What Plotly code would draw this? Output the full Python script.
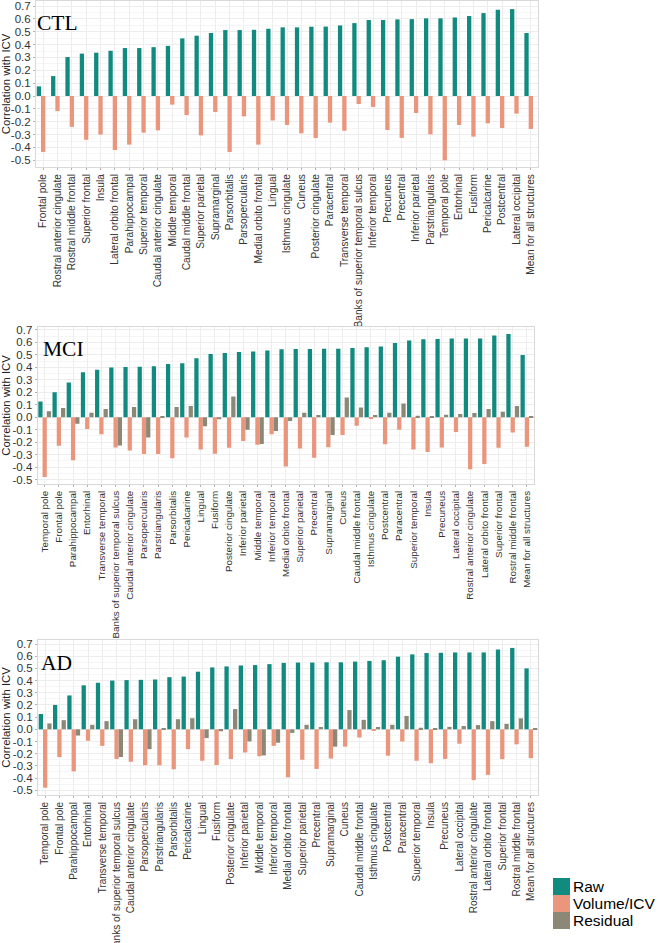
import plotly.graph_objects as go

# ---------------- data ----------------
ctl_categories = ["Frontal pole", "Rostral anterior cingulate", "Rostral middle frontal", "Superior frontal",
                  "Insula", "Lateral orbito frontal", "Parahippocampal", "Superior temporal",
                  "Caudal anterior cingulate", "Middle temporal", "Caudal middle frontal", "Superior parietal",
                  "Supramarginal", "Parsorbitalis", "Parsopercularis", "Medial orbito frontal", "Lingual",
                  "Isthmus cingulate", "Cuneus", "Posterior cingulate", "Paracentral", "Transverse temporal",
                  "Banks of superior temporal sulcus", "Inferior temporal", "Precuneus", "Precentral",
                  "Inferior parietal", "Parstriangularis", "Temporal pole", "Entorhinal", "Fusiform",
                  "Pericalcarine", "Postcentral", "Lateral occipital", "Mean for all structures"]
ctl_raw = [0.075, 0.155, 0.303, 0.330, 0.337, 0.352, 0.373, 0.373, 0.380, 0.390, 0.448, 0.469, 0.490,
           0.513, 0.513, 0.515, 0.523, 0.534, 0.534, 0.539, 0.540, 0.549, 0.567, 0.591, 0.591, 0.596,
           0.598, 0.604, 0.604, 0.611, 0.622, 0.645, 0.671, 0.676, 0.490]
ctl_vol = [-0.435, -0.117, -0.240, -0.340, -0.300, -0.420, -0.378, -0.285, -0.267, -0.067, -0.148, -0.306,
           -0.124, -0.435, -0.158, -0.378, -0.190, -0.225, -0.290, -0.326, -0.207, -0.270, -0.062, -0.085,
           -0.264, -0.326, -0.132, -0.298, -0.500, -0.225, -0.316, -0.212, -0.249, -0.137, -0.256]

mci_categories = ["Temporal pole", "Frontal pole", "Parahippocampal", "Entorhinal", "Transverse temporal",
                  "Banks of superior temporal sulcus", "Caudal anterior cingulate", "Parsopercularis",
                  "Parstriangularis", "Parsorbitalis", "Pericalcarine", "Lingual", "Fusiform",
                  "Posterior cingulate", "Inferior parietal", "Middle temporal", "Inferior temporal",
                  "Medial orbito frontal", "Superior parietal", "Precentral", "Supramarginal", "Cuneus",
                  "Caudal middle frontal", "Isthmus cingulate", "Postcentral", "Paracentral",
                  "Superior temporal", "Insula", "Precuneus", "Lateral occipital", "Rostral anterior cingulate",
                  "Lateral orbito frontal", "Superior frontal", "Rostral middle frontal", "Mean for all structures"]
mci_raw = [0.126, 0.200, 0.278, 0.361, 0.382, 0.400, 0.404, 0.406, 0.409, 0.428, 0.433, 0.473, 0.508,
           0.516, 0.524, 0.527, 0.535, 0.545, 0.548, 0.548, 0.550, 0.550, 0.556, 0.561, 0.567, 0.596,
           0.615, 0.626, 0.628, 0.631, 0.631, 0.631, 0.655, 0.668, 0.500]
mci_vol = [-0.479, -0.228, -0.345, -0.094, -0.136, -0.243, -0.266, -0.295, -0.295, -0.328, -0.163, -0.258,
           -0.293, -0.244, -0.190, -0.221, -0.136, -0.394, -0.250, -0.325, -0.240, -0.142, -0.067, -0.008,
           -0.216, -0.100, -0.258, -0.278, -0.243, -0.118, -0.417, -0.374, -0.245, -0.123, -0.237]
mci_res = [0.048, 0.075, -0.051, 0.037, 0.067, -0.227, 0.083, -0.163, 0.005, 0.083, 0.091, -0.072, -0.016,
           0.166, -0.099, -0.214, -0.110, -0.029, 0.037, 0.019, -0.142, 0.158, 0.078, 0.019, 0.037, 0.110,
           0.013, 0.010, 0.020, 0.027, 0.035, 0.067, 0.045, 0.090, 0.010]

ad_categories = ["Temporal pole", "Frontal pole", "Parahippocampal", "Entorhinal", "Transverse temporal",
                 "Banks of superior temporal sulcus", "Caudal anterior cingulate", "Parsopercularis",
                 "Parstriangularis", "Parsorbitalis", "Pericalcarine", "Lingual", "Fusiform",
                 "Posterior cingulate", "Inferior parietal", "Middle temporal", "Inferior temporal",
                 "Medial orbito frontal", "Superior parietal", "Precentral", "Supramarginal", "Cuneus",
                 "Caudal middle frontal", "Isthmus cingulate", "Postcentral", "Paracentral",
                 "Superior temporal", "Insula", "Precuneus", "Lateral occipital", "Rostral anterior cingulate",
                 "Lateral orbito frontal", "Superior frontal", "Rostral middle frontal", "Mean for all structures"]
ad_raw = [0.126, 0.200, 0.278, 0.361, 0.382, 0.400, 0.404, 0.406, 0.409, 0.428, 0.433, 0.473, 0.508,
          0.516, 0.524, 0.527, 0.535, 0.545, 0.548, 0.548, 0.550, 0.550, 0.556, 0.561, 0.567, 0.596,
          0.615, 0.626, 0.628, 0.631, 0.631, 0.631, 0.655, 0.668, 0.500]
ad_vol = [-0.479, -0.228, -0.345, -0.094, -0.136, -0.243, -0.266, -0.295, -0.295, -0.328, -0.163, -0.258,
          -0.293, -0.244, -0.190, -0.221, -0.136, -0.394, -0.250, -0.325, -0.240, -0.142, -0.067, -0.008,
          -0.216, -0.100, -0.258, -0.278, -0.243, -0.118, -0.417, -0.374, -0.245, -0.123, -0.237]
ad_res = [0.048, 0.075, -0.051, 0.037, 0.067, -0.227, 0.083, -0.163, 0.005, 0.083, 0.091, -0.072, -0.016,
          0.166, -0.099, -0.214, -0.110, -0.029, 0.037, 0.019, -0.142, 0.158, 0.078, 0.019, 0.037, 0.110,
          0.013, 0.010, 0.020, 0.027, 0.035, 0.067, 0.045, 0.090, 0.010]

series_names = ["Raw", "Volume/ICV", "Residual"]
panel_names = ["CTL", "MCI", "AD"]
y_tick_values = [-0.5, -0.4, -0.3, -0.2, -0.1, 0.0, 0.1, 0.2, 0.3, 0.4, 0.5, 0.6, 0.7]
y_tick_labels = ["-0.5", "-0.4", "-0.3", "-0.2", "-0.1", "0.0", "0.1", "0.2", "0.3", "0.4", "0.5", "0.6", "0.7"]

# ---------------- styling ----------------
W, H = 661, 943
COLORS = {"Raw": "#118A80", "Volume/ICV": "#E9967D", "Residual": "#8C8878"}
OFFSETS = {"Raw": -0.45, "Volume/ICV": -0.15, "Residual": 0.15}
SANS = "Liberation Sans, Arial, sans-serif"
SERIF = "Liberation Serif, Times New Roman, serif"


def px_x(x):
    return x / W


def px_y(y):
    return 1 - y / H


panels = [
    # (suffix, categories, data dict, x-domain px, y-domain px (top,bottom), y range, x label font)
    ("", ctl_categories, {"Raw": ctl_raw, "Volume/ICV": ctl_vol}, (36, 538), (1, 167), (-0.552, 0.739), 10.2),
    ("2", mci_categories, {"Raw": mci_raw, "Volume/ICV": mci_vol, "Residual": mci_res},
     (37.6, 534), (327, 484), (-0.535, 0.724), 9.8),
    ("3", ad_categories, {"Raw": ad_raw, "Volume/ICV": ad_vol, "Residual": ad_res},
     (38, 538), (640, 795), (-0.539, 0.733), 10.0),
]

fig = go.Figure()
layout = dict(
    width=W, height=H,
    margin=dict(l=0, r=0, t=0, b=0),
    paper_bgcolor="white", plot_bgcolor="white",
    showlegend=False,
    barmode="overlay",
    font=dict(family=SANS, color="#333333"),
    annotations=[], shapes=[],
)

panel_label_y = [23, 349, 662.5]
panel_label_x = [35, 41, 38.5]

for i, (suf, cats, data, xd, yd, yr, xfs) in enumerate(panels):
    xa = "x" + suf
    ya = "y" + suf
    for name in series_names:
        if name not in data:
            continue
        fig.add_trace(go.Bar(
            x=cats, y=data[name], name=name,
            xaxis=xa, yaxis=ya,
            width=0.3, offset=OFFSETS[name],
            marker=dict(color=COLORS[name], line=dict(width=0)),
            legendgroup=name, showlegend=False,
        ))
    layout["xaxis" + suf] = dict(
        domain=[px_x(xd[0]), px_x(xd[1])], anchor=ya,
        type="category", categoryorder="array", categoryarray=cats,
        tickangle=-90, tickfont=dict(size=xfs, color="#333333", family=SANS),
        ticks="outside", ticklen=2, tickcolor="#B3B3B3",
        showgrid=True, gridcolor="#EDEDED", gridwidth=0.8,
        showline=True, mirror=True, linecolor="#D9D9D9", linewidth=1,
        automargin=False, zeroline=False, fixedrange=True,
    )
    layout["yaxis" + suf] = dict(
        domain=[px_y(yd[1]), px_y(yd[0])], anchor=xa,
        range=list(yr),
        tickmode="array", tickvals=y_tick_values, ticktext=y_tick_labels,
        tickfont=dict(size=11.5, color="#333333", family=SANS),
        ticks="outside", ticklen=2, tickcolor="#B3B3B3",
        showgrid=True, gridcolor="#EDEDED", gridwidth=0.8,
        minor=dict(tickvals=[v + 0.05 for v in y_tick_values], showgrid=True,
                   gridcolor="#F6F6F6", gridwidth=0.6, ticks=""),
        showline=True, mirror=True, linecolor="#D9D9D9", linewidth=1,
        zeroline=False, automargin=False, fixedrange=True,
        title=dict(text="Correlation with ICV", font=dict(size=11.3, color="#222222", family=SANS),
                   standoff=1),
    )
    layout["annotations"].append(dict(
        text=panel_names[i], xref="paper", yref="paper",
        x=px_x(panel_label_x[i]), y=px_y(panel_label_y[i]),
        xanchor="left", yanchor="middle", showarrow=False,
        font=dict(family=SERIF, size=21.5, color="black"),
    ))

# legend (drawn as colour keys with text)
legend_top = 878
key = 17
for j, name in enumerate(series_names):
    y0 = legend_top + j * key
    layout["shapes"].append(dict(
        type="rect", xref="paper", yref="paper",
        x0=px_x(553), x1=px_x(553 + key), y0=px_y(y0 + key), y1=px_y(y0),
        fillcolor=COLORS[name], line=dict(width=0),
    ))
    layout["annotations"].append(dict(
        text=name, xref="paper", yref="paper",
        x=px_x(571), y=px_y(y0 + key / 2),
        xanchor="left", yanchor="middle", showarrow=False,
        font=dict(family=SANS, size=15.5, color="black"),
    ))

fig.update_layout(**layout)
fig.write_html(
    "out.html",
    config={"displayModeBar": False, "staticPlot": False},
    post_script="document.body.style.margin='0px';document.body.style.overflow='hidden';",
)
